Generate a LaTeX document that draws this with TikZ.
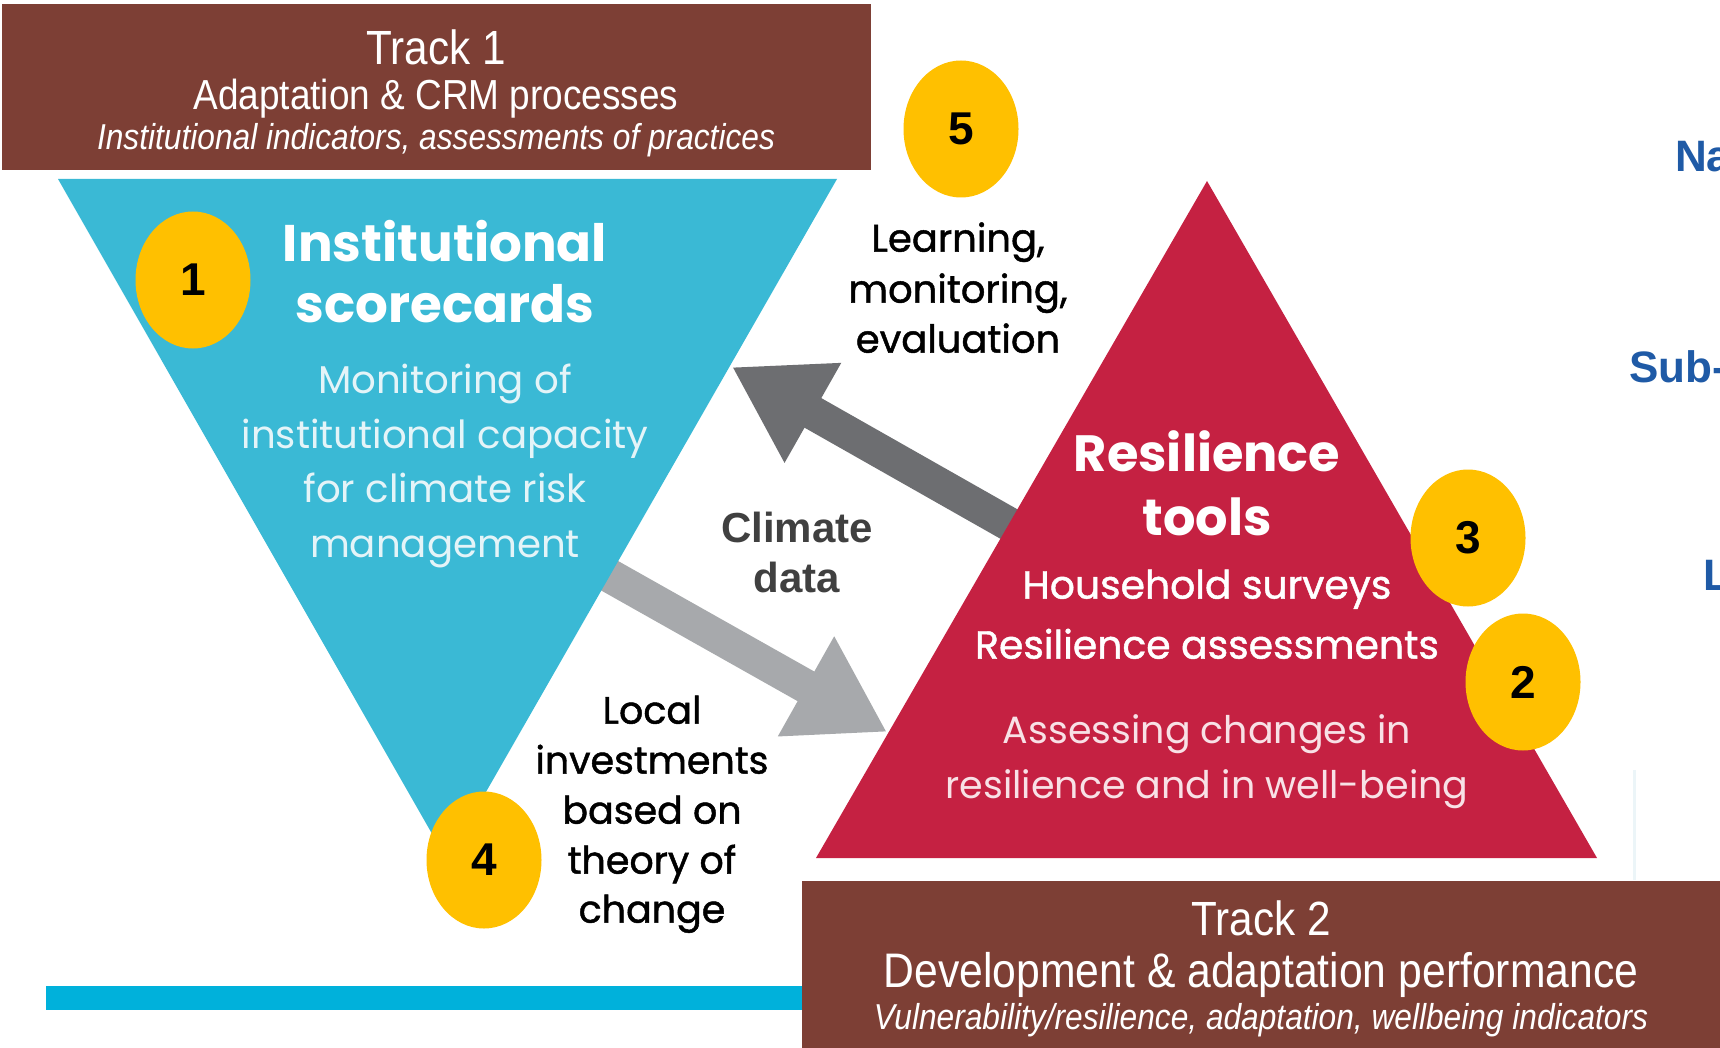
\documentclass[tikz,border=0pt]{standalone}
\usepackage{fontspec}
\setmainfont{Liberation Sans}
\newfontfamily\trackfont[FakeStretch=0.88]{Liberation Sans}
\newfontfamily\geo{Poppins}
\newfontfamily\geosemi[FakeBold=1.2]{Poppins}
\usetikzlibrary{arrows.meta,shapes.geometric}
\definecolor{brownbox}{HTML}{7D3F35}
\definecolor{cyantri}{HTML}{3AB9D5}
\definecolor{redtri}{HTML}{C52142}
\definecolor{yel}{HTML}{FFC000}
\definecolor{darkarrow}{HTML}{6D6E71}
\definecolor{lightarrow}{HTML}{A7A9AC}
\definecolor{barcyan}{HTML}{00B1DB}
\definecolor{bluetxt}{HTML}{1F5AA6}
\definecolor{cyantxt}{HTML}{E4F4F8}
\definecolor{redtxt}{HTML}{F8E1E6}
\definecolor{climtxt}{HTML}{404040}
\begin{document}
\begin{tikzpicture}[x=1pt,y=-1pt,
  trackbox/.style={fill=brownbox,draw=none},
  tracktxt/.style={text=white,inner sep=0pt,align=center},
  numcircle/.style={ellipse,fill=yel,draw=none,minimum width=115pt,minimum height=137pt,inner sep=0pt,
    font=\bfseries\fontsize{46}{50}\selectfont,text=black},
  blockarrow/.style={line width=34pt,-{Triangle[length=93pt,width=108pt]}},
  geotxt/.style={inner sep=0pt,align=center,text height=0.75em,text depth=0.22em},
  bluecut/.style={anchor=base west,inner sep=0pt,text=bluetxt,font=\bfseries\fontsize{44}{48}\selectfont}]
\useasboundingbox (0,0) rectangle (1720,1048);
\fill[white] (0,0) rectangle (1720,1048);

% faint line at right
\draw[color={rgb,255:red,236;green,245;blue,248},line width=3pt] (1634,770) -- (1634,880);

% bottom cyan bar
\fill[barcyan] (46,986) rectangle (802,1010);

% arrows (behind triangles)
\coordinate (dstart) at (1030,536);
\coordinate (dtip) at (732,367);
\coordinate (lstart) at (587,563);
\coordinate (ltip) at (887,732);
\draw[blockarrow,darkarrow] (dstart) -- (dtip);
\draw[blockarrow,lightarrow] (lstart) -- (ltip);

% triangles
\coordinate (cA) at (58,179);
\coordinate (cB) at (837,179);
\coordinate (cC) at (447,860);
\fill[cyantri] (cA) -- (cB) -- (cC) -- cycle;
\coordinate (rA) at (1207,181);
\coordinate (rB) at (1597,858);
\coordinate (rC) at (816,858);
\fill[redtri] (rA) -- (rB) -- (rC) -- cycle;

% track boxes
\fill[trackbox] (2,4) rectangle (871,170);
\node[tracktxt,font=\trackfont\fontsize{48}{50}\selectfont] (t1a) at (436,47) {Track 1};
\node[tracktxt,font=\trackfont\fontsize{42}{46}\selectfont] (t1b) at (436,99) {Adaptation \& CRM processes};
\node[tracktxt,font=\trackfont\itshape\fontsize{36}{40}\selectfont] (t1c) at (436,140) {Institutional indicators, assessments of practices};

\fill[trackbox] (802,881) rectangle (1720,1048);
\node[tracktxt,font=\trackfont\fontsize{48}{50}\selectfont] (t2a) at (1261,918) {Track 2};
\node[tracktxt,font=\trackfont\fontsize{48.5}{50}\selectfont] (t2b) at (1261,975) {Development \& adaptation performance};
\node[tracktxt,font=\trackfont\itshape\fontsize{36}{40}\selectfont] (t2c) at (1261,1020) {Vulnerability/resilience, adaptation, wellbeing indicators};

% cyan triangle texts
\node[geotxt,text=white,font=\geo\bfseries\fontsize{51.5}{62}\selectfont] (inst1) at (445,259) {Institutional};
\node[geotxt,text=white,font=\geo\bfseries\fontsize{51.5}{62}\selectfont] (inst2) at (445,320) {scorecards};
\node[geotxt,text=cyantxt,font=\geo\fontsize{38.7}{55}\selectfont] (mon1) at (445,391) {Monitoring of};
\node[geotxt,text=cyantxt,font=\geo\fontsize{38.7}{55}\selectfont] (mon2) at (445,446) {institutional capacity};
\node[geotxt,text=cyantxt,font=\geo\fontsize{38.7}{55}\selectfont] (mon3) at (445,500) {for climate risk};
\node[geotxt,text=cyantxt,font=\geo\fontsize{38.7}{55}\selectfont] (mon4) at (445,555) {management};

% red triangle texts
\node[geotxt,text=white,font=\geo\bfseries\fontsize{51}{60}\selectfont] (res1) at (1207,469) {Resilience};
\node[geotxt,text=white,font=\geo\bfseries\fontsize{51}{60}\selectfont] (res2) at (1207,533) {tools};
\node[geotxt,text=white,font=\geosemi\fontsize{39.3}{44}\selectfont] (hh) at (1207,596) {Household surveys};
\node[geotxt,text=white,font=\geosemi\fontsize{39.3}{44}\selectfont] (ra) at (1207,656) {Resilience assessments};
\node[geotxt,text=redtxt,font=\geo\fontsize{38}{44}\selectfont] (ac1) at (1207,741) {Assessing changes in};
\node[geotxt,text=redtxt,font=\geo\fontsize{38}{44}\selectfont] (ac2) at (1207,796) {resilience and in well-being};

% labels between
\node[geotxt,text=black,font=\geosemi\fontsize{38.5}{44}\selectfont] (lm1) at (958,249) {Learning,};
\node[geotxt,text=black,font=\geosemi\fontsize{38.5}{44}\selectfont] (lm2) at (958,300) {monitoring,};
\node[geotxt,text=black,font=\geosemi\fontsize{38.5}{44}\selectfont] (lm3) at (958,350) {evaluation};

\node[geotxt,text=climtxt,font=\bfseries\fontsize{42}{46}\selectfont] (cd1) at (797,540) {Climate};
\node[geotxt,text=climtxt,font=\bfseries\fontsize{42}{46}\selectfont] (cd2) at (797,590) {data};

\node[geotxt,text=black,font=\geosemi\fontsize{38}{44}\selectfont] (li1) at (652,721) {Local};
\node[geotxt,text=black,font=\geosemi\fontsize{38}{44}\selectfont] (li2) at (652,771) {investments};
\node[geotxt,text=black,font=\geosemi\fontsize{38}{44}\selectfont] (li3) at (652,821) {based on};
\node[geotxt,text=black,font=\geosemi\fontsize{38}{44}\selectfont] (li4) at (652,871) {theory of};
\node[geotxt,text=black,font=\geosemi\fontsize{38}{44}\selectfont] (li5) at (652,920) {change};

% numbered circles
\node[numcircle] (n1) at (193,280) {1};
\node[numcircle] (n5) at (961,129) {5};
\node[numcircle] (n3) at (1468,538) {3};
\node[numcircle] (n2) at (1523,682) {2};
\node[numcircle] (n4) at (484,860) {4};

% cut-off blue labels at right edge
\begin{scope}
\clip (0,0) rectangle (1720,1048);
\node[bluecut] (na) at (1675,172) {Na};
\node[bluecut] (sub) at (1629,382) {Sub-};
\node[bluecut] (ll) at (1703,590) {L};
\end{scope}
\end{tikzpicture}
\end{document}
